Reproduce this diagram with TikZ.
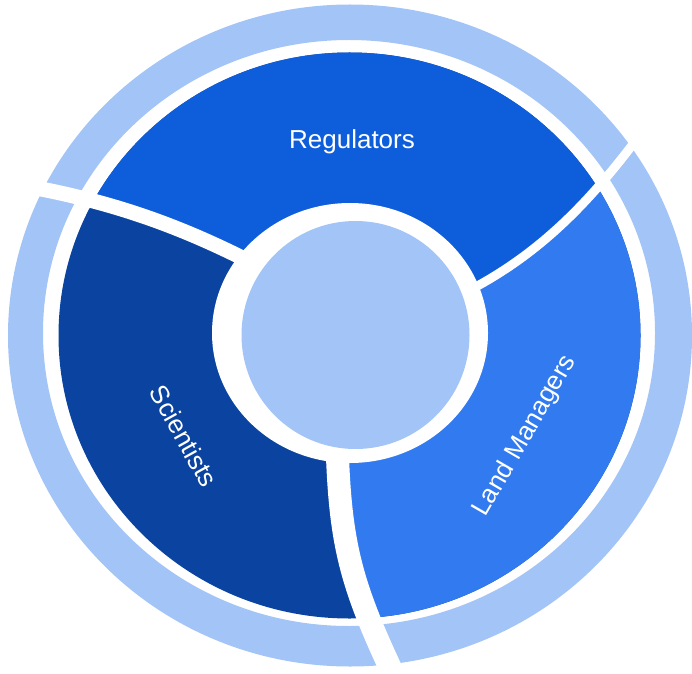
\documentclass[tikz,border=0pt]{standalone}
\usepackage{fontspec}
\setmainfont{Liberation Sans}
\definecolor{regblue}{HTML}{0E5EDC}
\definecolor{sciblue}{HTML}{0A43A0}
\definecolor{landblue}{HTML}{317AF0}
\definecolor{paleblue}{HTML}{A3C4F7}
\begin{document}
\begin{tikzpicture}[x=1pt,y=1pt,
    sepline/.style={white, line width=#1},
    seclabel/.style={white, font=\fontsize{26}{30}\selectfont}]
  \useasboundingbox (0,0) rectangle (692,673);
  \coordinate (a0) at (262,405); \coordinate (a1) at (20,488);
  \coordinate (b0) at (470,383); \coordinate (b1) at (645,545);
  \coordinate (c0) at (337,230); \coordinate (c1) at (395,-5);
  % outer ring
  \fill [paleblue, even odd rule] (350,337.5) ellipse [x radius=342, y radius=331]
    (349,340) ellipse [x radius=306, y radius=293];
  % the three sectors
  \begin{scope}
    \clip (349.5,337.5) ellipse [x radius=291, y radius=283];
    \fill [sciblue] (0,0) rectangle (692,673);
    \fill [regblue] (350,338) -- (a0) .. controls (180,448) and (110,472) .. (a1)
      -- (0,673) -- (692,673) -- (b1) .. controls (590,470) and (540,420) .. (b0) -- cycle;
    \fill [landblue] (350,338) -- (b0) .. controls (540,420) and (590,470) .. (b1)
      -- (692,545) -- (692,-10) -- (c1) .. controls (350,90) and (340,130) .. (c0) -- cycle;
  \end{scope}
  \draw [sepline=15] (a0) .. controls (180,448) and (110,472) .. (a1);
  \draw [sepline=9] (b0) .. controls (540,420) and (590,470) .. (b1);
  \draw [sepline=23] (c0) .. controls (340,130) and (350,90) .. (c1);
  % hub
  \fill [white] (350,340) ellipse [x radius=138, y radius=130];
  \fill [paleblue] (355.5,338) circle (114);
  \node [seclabel] (reg) at (352,531) {Regulators};
  \node [seclabel, rotate=-61] (sci) at (184,237) {Scientists};
  \node [seclabel, rotate=60] (land) at (525,237) {Land Managers};
\end{tikzpicture}
\end{document}
